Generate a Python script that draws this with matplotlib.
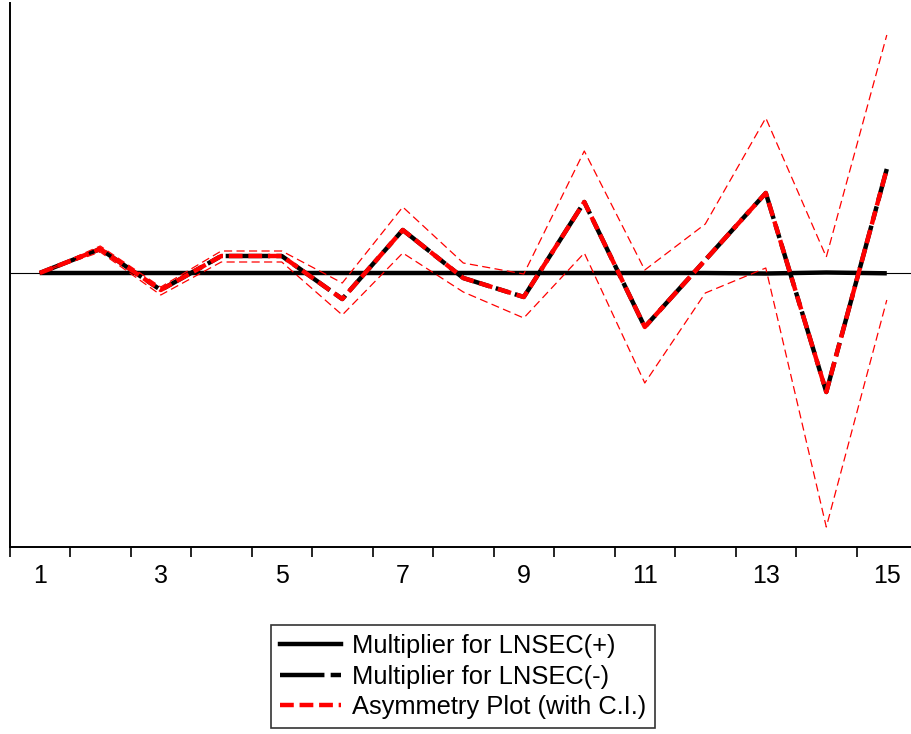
import matplotlib.pyplot as plt
from matplotlib.lines import Line2D

plt.rcParams['font.family'] = ['Liberation Sans', 'DejaVu Sans']

periods = list(range(1, 16))
mult_pos = [0, 0, 0, 0, 0, 0, 0, 0, 0, 0, 0, 0, -0.005, 0.005, -0.003]
mult_neg = [0, 0.24, -0.17, 0.17, 0.17, -0.26, 0.43, -0.05, -0.24, 0.71,
            -0.54, 0.13, 0.80, -1.19, 1.04]
asym = [0, 0.24, -0.17, 0.17, 0.17, -0.26, 0.43, -0.05, -0.24, 0.71,
        -0.54, 0.13, 0.80, -1.19, 1.04]
ci_upper = [0, 0.27, -0.14, 0.22, 0.22, -0.10, 0.66, 0.10, -0.01, 1.22,
            0.03, 0.49, 1.55, 0.16, 2.38]
ci_lower = [0, 0.21, -0.22, 0.11, 0.11, -0.42, 0.20, -0.19, -0.45, 0.20,
            -1.10, -0.20, 0.05, -2.54, -0.27]
tick_labels = ['1', '3', '5', '7', '9', '11', '13', '15']

fig = plt.figure(figsize=(9.11, 7.34), dpi=100)
ax = fig.add_axes([9.5 / 911, 1 - 547 / 734, 1 - 9.5 / 911, (547 - 3) / 734])

ax.axhline(0, color='black', lw=0.8, zorder=1)
ax.plot(periods, mult_pos, color='black', lw=3.2, solid_capstyle='butt', zorder=2)
ax.plot(periods, mult_neg, color='black', lw=3.2, dashes=(10, 1.4, 3.1, 1.4), zorder=3)
ax.plot(periods, asym, color='red', lw=3.2, dashes=(3.1, 1.3), zorder=4)
ax.plot(periods, ci_upper, color='red', lw=0.9, dashes=(6.5, 3.5), zorder=4)
ax.plot(periods, ci_lower, color='red', lw=0.9, dashes=(6.5, 3.5), zorder=4)

for s in ['top', 'right']:
    ax.spines[s].set_visible(False)
for s in ['left', 'bottom']:
    ax.spines[s].set_linewidth(1.4)

# boundary ticks between periods, labels on every other period
ax.set_yticks([])
ax.set_xticks([i + 0.5 for i in range(0, 16)])
ax.set_xticklabels([])
ax.tick_params(axis='x', which='major', direction='out', length=7.2, width=1.2)
ax.set_xticks(periods[::2], minor=True)
ax.set_xticklabels(tick_labels, minor=True, fontsize=18)
ax.tick_params(axis='x', which='minor', length=0, pad=12)

ax.set_xlim(0.5, 15.40)
ax.set_ylim(-2.74, 2.70)

handles = [
    Line2D([], [], color='black', lw=3.2),
    Line2D([], [], color='black', lw=3.2, dashes=(10, 1.4, 3.1, 1.4)),
    Line2D([], [], color='red', lw=3.2, dashes=(3.1, 1.3)),
]
labels = ['Multiplier for LNSEC(+)', 'Multiplier for LNSEC(-)',
          'Asymmetry Plot (with C.I.)']
leg = fig.legend(handles, labels, loc='upper center', bbox_to_anchor=(463 / 911, 1 - 625 / 734),
                 fontsize=18.4, frameon=True, fancybox=False, edgecolor='black',
                 handlelength=2.4, handletextpad=0.4, labelspacing=0.25,
                 borderpad=0.36, borderaxespad=0)
leg.get_frame().set_linewidth(1.2)

fig.savefig('out.png', dpi=100)
